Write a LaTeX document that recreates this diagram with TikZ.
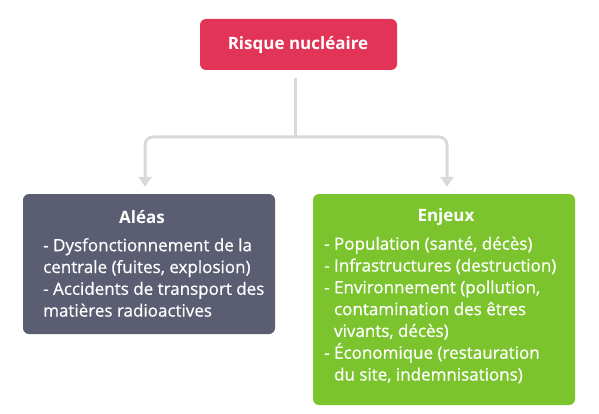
\documentclass[tikz,border=0pt]{standalone}
\usepackage{fontspec}
\setmainfont{Open Sans}
\usetikzlibrary{arrows.meta,positioning}
\definecolor{risquered}{HTML}{E23456}
\definecolor{aleagray}{HTML}{5B5E73}
\definecolor{enjeugreen}{HTML}{7CC42E}
\definecolor{linkgray}{HTML}{D9D9D9}
\begin{document}
\begin{tikzpicture}[x=1pt,y=-1pt,
    box/.style={rounded corners=6pt, inner sep=0pt},
    boxtitle/.style={text=white, inner sep=0pt, font=\fontsize{17}{20}\selectfont\bfseries},
    boxlist/.style={text=white, align=left, anchor=north west, inner sep=0pt, font=\fontsize{17}{21.8}\selectfont\addfontfeatures{FakeBold=0.6}},
    link/.style={draw=linkgray, line width=3pt, rounded corners=8pt},
    linkarrow/.style={link, -{Triangle[width=13pt,length=10pt]}, shorten >=7pt}]
    % the canvas
    \useasboundingbox (0,0) rectangle (599,414);
    % the top box
    \node[box, fill=risquered, minimum width=197pt, minimum height=51pt] (risk) at (298.5,44.5) {};
    \node[boxtitle] (risk-label) at (298,45) {Risque nucléaire};
    % the left box
    \node[box, fill=aleagray, minimum width=252pt, minimum height=140pt] (alea) at (149,264) {};
    \node[boxtitle] (alea-label) at (142,217) {Aléas};
    \node[boxlist] (alea-list) at (43,238) {- Dysfonctionnement de la\\centrale (fuites, explosion)\\- Accidents de transport des\\matières radioactives};
    % the right box
    \node[box, fill=enjeugreen, minimum width=262pt, minimum height=211pt] (enjeu) at (444,299.5) {};
    \node[boxtitle] (enjeu-label) at (446,217) {Enjeux};
    \node[boxlist] (enjeu-list) at (324,236.5) {- Population (santé, décès)\\- Infrastructures (destruction)\\- Environnement (pollution,\\\phantom{- }contamination des êtres\\\phantom{- }vivants, décès)\\- Économique (restauration\\\phantom{- }du site, indemnisations)};
    % the connectors
    \coordinate (fork) at (295,137);
    \draw[link, shorten <=8pt] (risk.south -| fork) -- (fork);
    \draw[linkarrow] (fork) -| ([xshift=-4pt]alea.north);
    \draw[linkarrow] (fork) -| ([xshift=3pt]enjeu.north);
\end{tikzpicture}
\end{document}
